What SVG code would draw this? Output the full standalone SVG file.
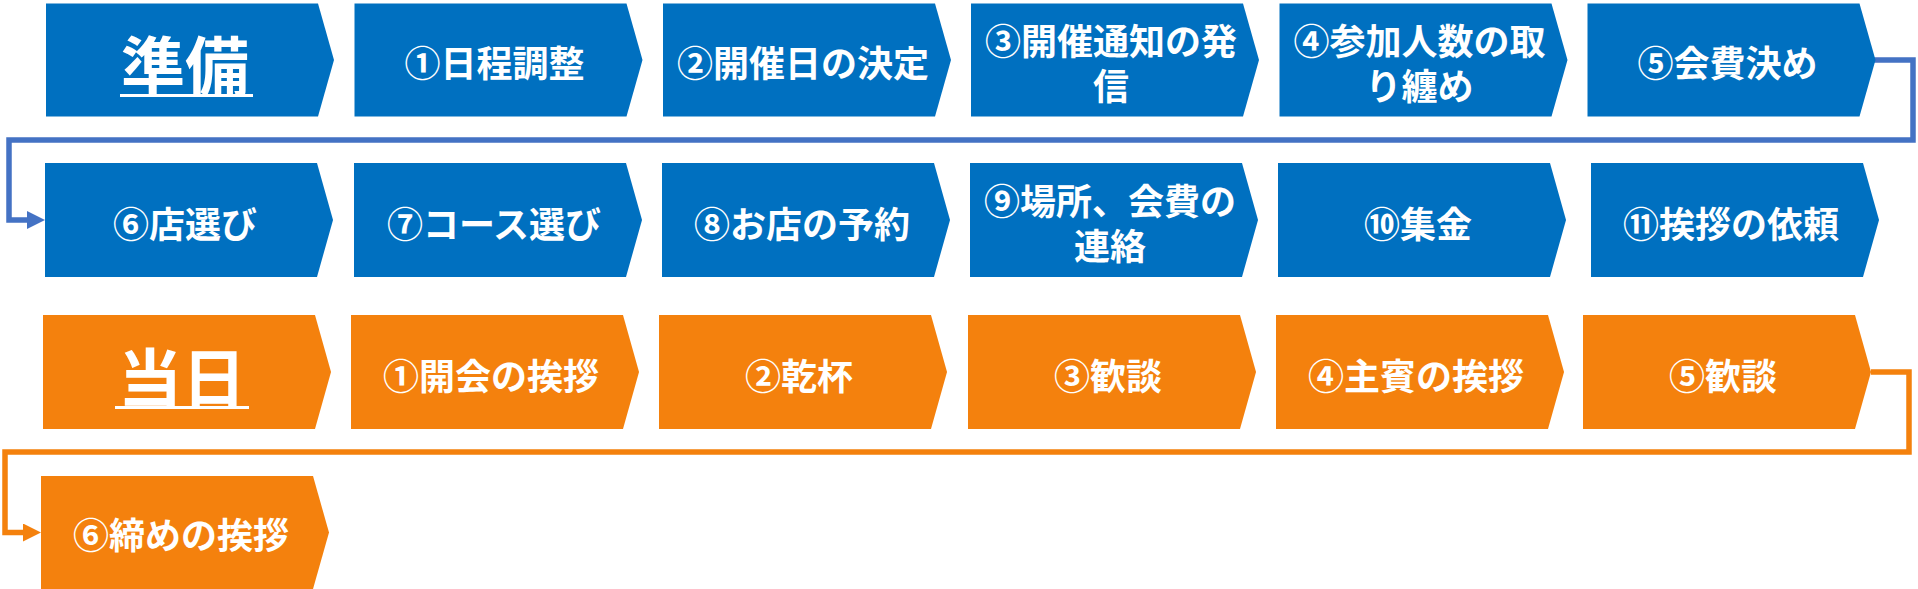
<svg xmlns="http://www.w3.org/2000/svg" width="1918" height="589" viewBox="0 0 1918 589">
<style>
.b{fill:#0070C0}
.o{fill:#F4810D}
.t{fill:#FFFFFF;font-family:"Noto Sans CJK JP","Noto Sans CJK SC",sans-serif;font-weight:bold;font-size:36px;text-anchor:middle;dominant-baseline:central}
.h{font-size:64px}
.u{fill:#FFFFFF}
.cb{fill:none;stroke:#4472C4;stroke-width:5.5}
.co{fill:none;stroke:#F4810D;stroke-width:5.5}
</style>
<defs>
<marker id="ab" viewBox="0 0 18 18" markerWidth="18" markerHeight="18" refX="1" refY="9" orient="auto" markerUnits="userSpaceOnUse"><path d="M0,0 L18,9 L0,18 Z" fill="#4472C4"/></marker>
<marker id="ao" viewBox="0 0 18 18" markerWidth="18" markerHeight="18" refX="1" refY="9" orient="auto" markerUnits="userSpaceOnUse"><path d="M0,0 L18,9 L0,18 Z" fill="#F4810D"/></marker>
</defs>
<g id="connectors">
<path class="cb" d="M1874,60 H1913 V140 H9 V220 H28" marker-end="url(#ab)"/>
<path class="co" d="M1871,372 H1909 V452 H5 V532.5 H24" marker-end="url(#ao)"/>
</g>
<g id="n-junbi"><polygon class="b" points="46,3.5 318,3.5 334,60 318,116.5 46,116.5"/><text class="t h" x="185" y="61.5">準備</text><rect class="u" x="120" y="94" width="133" height="3"/></g>
<g id="n-p1"><polygon class="b" points="354.5,3.5 626.5,3.5 642.5,60 626.5,116.5 354.5,116.5"/><text class="t" x="494.5" y="61">①日程調整</text></g>
<g id="n-p2"><polygon class="b" points="663,3.5 935,3.5 951,60 935,116.5 663,116.5"/><text class="t" x="803" y="61">②開催日の決定</text></g>
<g id="n-p3"><polygon class="b" points="971,3.5 1243,3.5 1259,60 1243,116.5 971,116.5"/><text class="t" x="1111" y="39"><tspan x="1111" y="39">③開催通知の発</tspan><tspan x="1111" y="83.5">信</tspan></text></g>
<g id="n-p4"><polygon class="b" points="1279.5,3.5 1551.5,3.5 1567.5,60 1551.5,116.5 1279.5,116.5"/><text class="t" x="1419.5" y="39"><tspan x="1419.5" y="39">④参加人数の取</tspan><tspan x="1419.5" y="83.5">り纏め</tspan></text></g>
<g id="n-p5"><polygon class="b" points="1587.5,3.5 1859.5,3.5 1875.5,60 1859.5,116.5 1587.5,116.5"/><text class="t" x="1727.5" y="61">⑤会費決め</text></g>
<g id="n-p6"><polygon class="b" points="45,163 317,163 333,220 317,277 45,277"/><text class="t" x="185" y="222">⑥店選び</text></g>
<g id="n-p7"><polygon class="b" points="354,163 626,163 642,220 626,277 354,277"/><text class="t" x="494" y="222">⑦コース選び</text></g>
<g id="n-p8"><polygon class="b" points="662,163 934,163 950,220 934,277 662,277"/><text class="t" x="802" y="222">⑧お店の予約</text></g>
<g id="n-p9"><polygon class="b" points="970,163 1242,163 1258,220 1242,277 970,277"/><text class="t" x="1110" y="199"><tspan x="1110" y="199">⑨場所、会費の</tspan><tspan x="1110" y="244">連絡</tspan></text></g>
<g id="n-p10"><polygon class="b" points="1278,163 1550,163 1566,220 1550,277 1278,277"/><text class="t" x="1418" y="222">⑩集金</text></g>
<g id="n-p11"><polygon class="b" points="1591,163 1863,163 1879,220 1863,277 1591,277"/><text class="t" x="1731" y="222">⑪挨拶の依頼</text></g>
<g id="n-tojitsu"><polygon class="o" points="43,315 315,315 331,372 315,429 43,429"/><text class="t h" x="182" y="374">当日</text><rect class="u" x="115" y="406" width="134" height="3"/></g>
<g id="n-d1"><polygon class="o" points="351,315 623,315 639,372 623,429 351,429"/><text class="t" x="491" y="374">①開会の挨拶</text></g>
<g id="n-d2"><polygon class="o" points="659,315 931,315 947,372 931,429 659,429"/><text class="t" x="799" y="374">②乾杯</text></g>
<g id="n-d3"><polygon class="o" points="968,315 1240,315 1256,372 1240,429 968,429"/><text class="t" x="1108" y="374">③歓談</text></g>
<g id="n-d4"><polygon class="o" points="1276,315 1548,315 1564,372 1548,429 1276,429"/><text class="t" x="1416" y="374">④主賓の挨拶</text></g>
<g id="n-d5"><polygon class="o" points="1583,315 1855,315 1871,372 1855,429 1583,429"/><text class="t" x="1723" y="374">⑤歓談</text></g>
<g id="n-d6"><polygon class="o" points="41,476 313,476 329,532.5 313,589 41,589"/><text class="t" x="181" y="533">⑥締めの挨拶</text></g>
</svg>
